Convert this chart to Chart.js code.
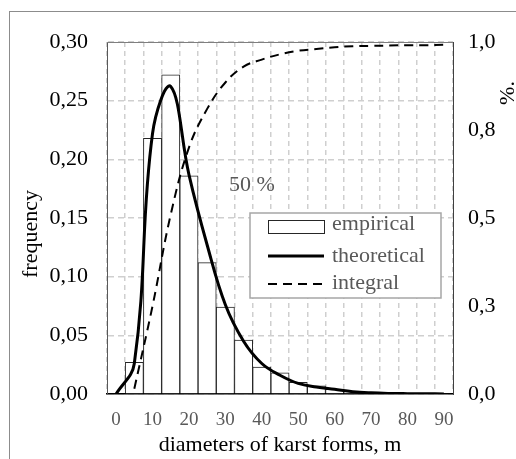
<!DOCTYPE html>
<html>
<head>
<meta charset="utf-8">
<script src="https://cdn.jsdelivr.net/npm/chart.js@4.4.1/dist/chart.umd.min.js"></script>
<style>
  body { margin: 0; background: #fff; }
  #wrap { position: relative; width: 516px; height: 459px; overflow: hidden; }
  #frame { position: absolute; left: 9px; top: 11px; width: 520px; height: 460px;
           border-left: 1px solid #8c8c8c; border-top: 1px solid #8c8c8c; }
  canvas { position: absolute; left: 0; top: 0; }
</style>
</head>
<body>
<div id="wrap">
  <div id="frame"></div>
  <canvas id="chart" width="516" height="459"></canvas>
</div>
<script>
// diameter classes, m (bin centres)
const categories = ["0", "5", "10", "15", "20", "25", "30", "35", "40", "45",
                    "50", "55", "60", "65", "70", "75", "80", "85", "90"];
const xTickLabels = ["0", "", "10", "", "20", "", "30", "", "40", "",
                     "50", "", "60", "", "70", "", "80", "", "90"];

// frequency (left axis)
const empirical = [0, 0.027, 0.218, 0.272, 0.186, 0.112, 0.074, 0.046, 0.023, 0.018,
                   0.010, 0.007, 0.004, 0.002, 0.001, 0, 0, 0, 0];
const theoretical = [0, 0.026, 0.222, 0.262, 0.187, 0.127, 0.076, 0.045, 0.026, 0.016,
                     0.009, 0.006, 0.004, 0.002, 0.001, 0.0005, 0.0003, 0.0002, 0.0001];
// cumulative share (right axis)
const integral = [null, 0.015, 0.25, 0.51, 0.70, 0.81, 0.885, 0.93, 0.95, 0.965,
                  0.975, 0.98, 0.985, 0.988, 0.989, 0.99, 0.991, 0.991, 0.992];

const leftTickLabels = ["0,00", "0,05", "0,10", "0,15", "0,20", "0,25", "0,30"];
const rightTickLabels = ["0,0", "0,3", "0,5", "0,8", "1,0"];

const serif = "Liberation Serif";

// titles, "50 %" note, plot frame and the legend box
const decor = {
  id: "decor",
  afterDraw(chart) {
    const ctx = chart.ctx;
    const a = chart.chartArea;
    ctx.save();

    // top edge of plot area
    ctx.strokeStyle = "#7f7f7f";
    ctx.lineWidth = 1;
    ctx.beginPath();
    ctx.moveTo(a.left, a.top + 0.5);
    ctx.lineTo(a.right, a.top + 0.5);
    ctx.stroke();

    ctx.font = "22px " + serif;
    ctx.textAlign = "center";
    ctx.textBaseline = "middle";

    // left axis title
    ctx.fillStyle = "#000";
    ctx.save();
    ctx.translate(31, 234);
    ctx.rotate(-Math.PI / 2);
    ctx.fillText("frequency", 0, 0);
    ctx.restore();

    // right axis title
    ctx.save();
    ctx.translate(508, 93);
    ctx.rotate(-Math.PI / 2);
    ctx.fillText("%.", 0, 0);
    ctx.restore();

    // 50 % note
    ctx.fillStyle = "#595959";
    ctx.textAlign = "left";
    ctx.fillText("50 %", a.left + 122, a.top + 143);

    // legend
    const lx = a.left + 143, ly = a.top + 171;
    ctx.fillStyle = "#fff";
    ctx.fillRect(lx, ly, 191, 85);
    ctx.strokeStyle = "#a6a6a6";
    ctx.lineWidth = 1.5;
    ctx.strokeRect(lx, ly, 191, 85);

    const sx = lx + 18, sw = 56, tx = lx + 82;
    ctx.strokeStyle = "#262626";
    ctx.lineWidth = 1;
    ctx.strokeRect(sx + 0.5, ly + 7.5, sw, 13);

    ctx.strokeStyle = "#000";
    ctx.lineWidth = 3;
    ctx.beginPath();
    ctx.moveTo(sx, ly + 43);
    ctx.lineTo(sx + sw, ly + 43);
    ctx.stroke();

    ctx.lineWidth = 2;
    ctx.setLineDash([9, 6]);
    ctx.beginPath();
    ctx.moveTo(sx, ly + 71);
    ctx.lineTo(sx + sw, ly + 71);
    ctx.stroke();
    ctx.setLineDash([]);

    ctx.fillStyle = "#595959";
    ctx.fillText("empirical", tx, ly + 11);
    ctx.fillText("theoretical", tx, ly + 43);
    ctx.fillText("integral", tx, ly + 70);

    ctx.restore();
  }
};

new Chart(document.getElementById("chart"), {
  type: "bar",
  data: {
    labels: categories,
    datasets: [
      {
        type: "line",
        label: "integral",
        data: integral,
        yAxisID: "y1",
        borderColor: "#000",
        borderWidth: 2,
        borderDash: [9, 6],
        pointRadius: 0,
        tension: 0.4,
        fill: false,
        order: 0
      },
      {
        type: "line",
        label: "theoretical",
        data: theoretical,
        yAxisID: "y",
        borderColor: "#000",
        borderWidth: 3,
        pointRadius: 0,
        tension: 0.4,
        fill: false,
        order: 1
      },
      {
        label: "empirical",
        data: empirical,
        yAxisID: "y",
        backgroundColor: "#fff",
        borderColor: "#262626",
        borderWidth: 1,
        barPercentage: 1,
        categoryPercentage: 1,
        order: 2
      }
    ]
  },
  options: {
    responsive: false,
    animation: false,
    layout: { padding: { top: 42, left: 0, right: 0, bottom: 0 } },
    plugins: {
      legend: { display: false },
      tooltip: { enabled: false }
    },
    scales: {
      x: {
        grid: { color: "#cfcfcf", lineWidth: 1.5, drawTicks: false, offset: true },
        border: { color: "#000", width: 1.5, dash: [5, 4] },
        ticks: {
          autoSkip: false,
          maxRotation: 0,
          minRotation: 0,
          padding: 15,
          color: "#595959",
          font: { family: serif, size: 19 },
          callback: (value, index) => xTickLabels[index]
        },
        title: {
          display: true,
          text: "diameters of karst forms, m",
          color: "#000",
          font: { family: serif, size: 22 },
          padding: { top: 0, bottom: 1 }
        },
        afterFit: (scale) => { scale.height = 65; }
      },
      y: {
        position: "left",
        min: 0,
        max: 0.3,
        ticks: {
          stepSize: 0.05,
          padding: 19,
          color: "#000",
          font: { family: serif, size: 22 },
          callback: (value, index) => leftTickLabels[index]
        },
        grid: { color: "#cfcfcf", lineWidth: 1.5, drawTicks: false },
        border: { color: "#595959", width: 1, dash: [6, 4] },
        afterFit: (scale) => { scale.width = 107; }
      },
      y1: {
        position: "right",
        min: 0,
        max: 1,
        ticks: {
          stepSize: 0.25,
          padding: 15,
          color: "#000",
          font: { family: serif, size: 22 },
          callback: (value, index) => rightTickLabels[index]
        },
        grid: { drawOnChartArea: false, drawTicks: false },
        border: { color: "#404040", width: 1 },
        afterFit: (scale) => { scale.width = 63; }
      }
    }
  },
  plugins: [decor]
});
</script>
</body>
</html>
